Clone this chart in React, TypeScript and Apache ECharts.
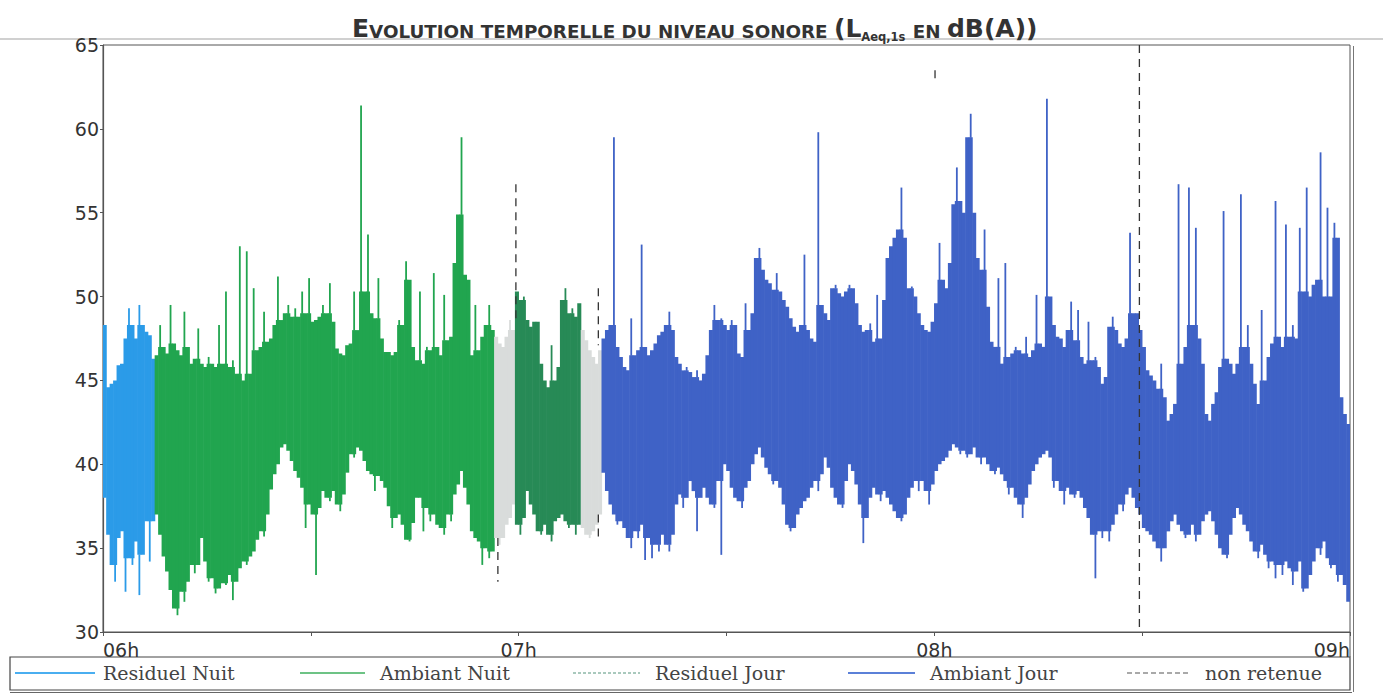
import React, { useEffect, useRef } from "react";
import * as echarts from "echarts";

// time axis: minutes after 06h00, data sampled as min/max envelopes every 0.5 min
const STEP = 0.5;
const hourLabels = ["06h", "07h", "08h", "09h"];
const legendNames = ["Residuel Nuit", "Ambiant Nuit", "Residuel Jour", "Ambiant Jour", "non retenue"];

const residuelNuitStart = 0;
const residuelNuitHi = [48.3, 44.6, 44.8, 45.0, 45.9, 46.0, 47.5, 49.3, 48.3, 47.5, 49.5, 48.3, 47.9, 47.7, 46.3];
const residuelNuitLo = [38.0, 35.8, 34.0, 33.0, 35.6, 36.0, 32.4, 34.4, 34.0, 35.4, 32.2, 34.6, 36.6, 34.2, 36.6];

const ambiantNuitStart = 7.5;
const ambiantNuitHi = [
  46.5, 48.3, 47.0, 46.6, 49.5, 47.2, 46.8, 46.5, 49.1, 47.0,
  46.0, 46.3, 48.1, 46.0, 45.8, 46.4, 46.0, 45.8, 48.3, 46.0,
  50.3, 45.8, 46.2, 45.4, 53.0, 45.0, 52.7, 45.4, 50.5, 46.8,
  47.0, 49.1, 47.3, 47.5, 48.3, 51.2, 48.6, 49.0, 49.5, 48.8,
  49.3, 48.8, 50.3, 49.0, 51.1, 48.5, 48.6, 48.8, 49.5, 49.0,
  50.8, 48.5, 46.9, 46.6, 46.5, 47.1, 47.2, 50.3, 48.0, 61.4,
  50.3, 53.7, 49.0, 48.7, 51.1, 47.5, 46.7, 46.7, 46.5, 46.7,
  48.6, 48.3, 52.1, 51.0, 47.0, 46.2, 50.3, 46.0, 47.0, 46.8,
  51.4, 47.0, 46.5, 50.1, 47.4, 47.6, 52.0, 54.9, 59.5, 51.3,
  51.0, 46.5, 49.5, 46.8, 47.6, 48.3, 49.5, 48.0,
];
const ambiantNuitLo = [
  37.0, 35.8, 34.5, 33.6, 32.5, 31.4, 31.0, 32.4, 31.8, 33.0,
  34.0, 33.5, 34.0, 35.6, 34.2, 33.0, 33.2, 32.3, 32.6, 32.9,
  32.8, 33.4, 31.9, 33.0, 33.8, 34.2, 34.0, 34.5, 34.8, 35.5,
  36.0, 35.7, 37.0, 38.5, 39.4, 40.0, 41.0, 41.2, 40.8, 40.2,
  39.6, 39.2, 38.6, 36.2, 37.6, 37.0, 33.4, 37.4, 38.4, 38.0,
  37.8, 38.4, 37.6, 37.2, 38.2, 39.5, 40.6, 40.4, 41.0, 40.8,
  40.2, 39.6, 39.4, 38.4, 39.3, 39.0, 38.6, 37.5, 36.2, 36.8,
  37.0, 36.4, 35.5, 35.4, 36.5, 38.0, 38.0, 36.0, 37.4, 36.6,
  37.0, 36.4, 36.2, 35.8, 37.0, 36.6, 38.2, 38.8, 39.6, 38.6,
  37.6, 36.0, 35.6, 35.4, 34.0, 35.0, 34.4, 34.8,
];

const residuelJour1Start = 56.5;
const residuelJour1Hi = [47.6, 47.2, 47.0, 47.6, 48.6, 48.0];
const residuelJour1Lo = [35.6, 35.2, 35.6, 36.4, 36.8, 37.6];

const ambiantNuit2Start = 59.5;
const ambiantNuit2Hi = [50.3, 49.8, 50.0, 48.6, 48.2, 48.5, 48.5, 46.0, 45.0, 44.6, 47.1, 45.0, 45.8, 49.8, 50.5, 49.0, 49.3, 48.8, 49.6];
const ambiantNuit2Lo = [36.4, 35.8, 36.8, 38.4, 37.6, 37.0, 36.0, 35.8, 36.4, 35.8, 35.4, 36.6, 36.8, 37.0, 36.6, 36.2, 36.4, 35.8, 36.4];

const residuelJour2Start = 69.0;
const residuelJour2Hi = [48.0, 47.4, 46.8, 46.4, 46.0, 46.8];
const residuelJour2Lo = [36.2, 35.8, 35.6, 36.0, 36.4, 37.0];

const ambiantJourStart = 72;
const ambiantJourHi = [
  47.5, 48.0, 48.3, 59.5, 47.0, 46.4, 45.8, 45.6, 48.7, 46.5,
  46.8, 53.1, 47.0, 46.5, 46.8, 47.2, 47.7, 47.9, 48.3, 49.1,
  48.0, 46.4, 46.0, 45.6, 45.8, 45.5, 45.2, 45.6, 45.0, 45.4,
  46.5, 48.0, 49.5, 48.6, 48.7, 48.3, 48.0, 48.6, 48.3,
  46.6, 46.4, 49.6, 48.0, 49.0, 52.3, 52.9, 51.6, 51.0, 50.8,
  50.4, 51.4, 50.3, 49.8, 49.4, 48.7, 48.2, 47.9, 48.3, 52.5,
  48.0, 47.5, 47.3, 59.8, 49.5, 49.0, 48.6, 50.5, 50.7, 50.2,
  50.0, 50.3, 50.7, 50.5, 49.6, 48.3, 47.9, 48.0, 48.4, 47.3,
  50.1, 47.5, 49.8, 52.3, 53.0, 53.5, 54.0, 56.5, 53.5, 50.5,
  50.6, 50.0, 49.0, 48.3, 48.0, 47.9, 48.5, 49.6, 53.2, 51.0,
  50.5, 52.0, 55.5, 57.7, 55.7, 55.0, 59.5, 60.9, 55.0, 52.3,
  51.6, 54.0, 49.4, 47.3, 47.0, 51.1, 46.0, 52.0, 46.4, 46.6,
  47.0, 46.8, 46.6, 47.6, 46.4, 46.8, 50.1, 47.2, 47.0, 61.8, 50.0,
  48.3, 47.6, 47.5, 47.0, 48.0, 49.7, 47.4, 49.2, 46.4, 46.0,
  48.5, 46.2, 46.4, 45.8, 44.8, 45.2, 48.2, 48.8, 48.0, 47.2,
  47.0, 47.5, 53.8, 49.0, 49.0, 48.0, 47.0, 45.6, 45.3, 45.0,
  44.5, 46.0, 44.0, 42.6, 43.0, 43.6, 56.7, 46.0, 47.0, 56.5,
  48.3, 54.1, 47.5, 46.0, 43.0, 42.6, 43.6, 44.3, 45.8, 55.1,
  46.3, 46.0, 45.4, 46.0, 56.1, 47.0, 48.3, 46.0, 44.8, 43.6,
  49.2, 45.0, 46.4, 47.2, 55.7, 47.6, 47.0, 54.3, 47.6, 48.3,
  47.5, 54.1, 50.3, 56.5, 50.0, 50.7, 51.0, 58.6, 50.0, 55.3,
  50.0, 54.4, 53.5, 44.0, 43.0, 42.4,
];
const ambiantJourLo = [
  39.5, 38.4, 37.6, 37.0, 36.4, 36.6, 36.2, 35.6, 35.0, 36.0,
  35.6, 36.4, 34.3, 35.6, 34.4, 35.2, 34.8, 35.8, 35.2, 34.8,
  35.8, 37.6, 38.2, 37.4, 38.0, 39.0, 38.4, 36.0, 38.0, 38.6,
  38.0, 37.6, 37.4, 39.0, 34.6, 40.0, 39.6, 38.6, 38.0,
  37.8, 37.4, 38.6, 39.0, 40.0, 40.6, 41.0, 40.4, 39.8, 39.4,
  38.8, 39.0, 38.6, 37.6, 36.4, 36.0, 36.2, 37.0, 37.4, 37.8,
  38.0, 38.6, 39.0, 38.4, 39.4, 40.4, 39.8, 38.6, 38.0, 37.6,
  37.4, 39.0, 40.0, 39.6, 38.8, 37.6, 35.3, 36.8, 38.0, 38.6,
  38.2, 37.8, 38.4, 38.0, 37.6, 37.2, 36.8, 36.6, 37.0, 38.0,
  38.6, 39.0, 38.4, 39.0, 38.4, 37.6, 38.8, 39.6, 40.0, 40.2,
  40.4, 40.8, 41.2, 41.0, 40.6, 40.8, 40.4, 40.6, 41.0, 40.4,
  40.0, 40.4, 40.0, 39.6, 39.4, 39.8, 39.4, 39.0, 38.2, 38.6,
  38.0, 37.6, 36.8, 38.0, 38.8, 39.6, 40.0, 40.4, 40.6, 40.8, 40.4,
  38.6, 39.0, 38.4, 37.6, 38.6, 38.2, 38.0, 38.4, 38.0, 37.4,
  36.8, 35.8, 33.2, 36.0, 35.6, 36.0, 35.4, 36.4, 37.0, 37.6,
  37.2, 38.2, 38.6, 38.0, 37.4, 37.0, 36.2, 36.0, 35.8, 35.4,
  35.0, 34.2, 35.0, 36.0, 36.6, 37.0, 36.4, 36.0, 35.6, 35.8,
  36.4, 35.4, 35.8, 36.6, 37.0, 37.2, 36.6, 35.8, 35.0, 34.6,
  34.4, 35.8, 36.8, 37.4, 37.0, 36.4, 36.0, 35.4, 34.8, 34.4,
  35.2, 34.6, 33.8, 34.2, 33.2, 34.0, 33.4, 34.2, 33.8, 32.8,
  33.6, 34.2, 32.4, 32.6, 33.4, 34.2, 35.0, 34.6, 35.4, 34.4,
  33.8, 34.0, 33.0, 33.4, 32.8, 31.8,
];

// non retenue marks: [minute, from dB, to dB]
const nonRetenue = [
  [57.0, 33.0, 35.6],
  [59.6, 48.7, 56.7],
  [71.5, 47.1, 50.5],
  [71.5, 35.6, 37.0],
  [120.1, 62.9, 63.5],
  [149.6, 30, 65],
];

const COLORS = {
  residuelNuit: "#2b9be8",
  ambiantNuit: "#21a54f",
  ambiantNuit2: "#278a56",
  residuelJour: "#d9dcdb",
  ambiantJour: "#3f62c6",
  nonRetenue: "#333333",
};

// each item: [minute, lo, hi, coreLo, coreHi]; the core is the part shared with
// the neighbouring samples, the rest is drawn as a thin spike
function bands(start: number, hi: number[], lo: number[]) {
  return hi.map((h, i) => {
    const hp = i > 0 ? hi[i - 1] : h;
    const hn = i < hi.length - 1 ? hi[i + 1] : h;
    const lp = i > 0 ? lo[i - 1] : lo[i];
    const ln = i < lo.length - 1 ? lo[i + 1] : lo[i];
    const coreHi = Math.min(h, Math.max(hp, hn));
    const coreLo = Math.max(lo[i], Math.min(lp, ln));
    return [start + STEP * (i + 0.5), lo[i], h, coreLo, coreHi];
  });
}

function bandSeries(name: string, data: number[][], color: string) {
  return {
    type: "custom",
    name,
    silent: true,
    clip: true,
    encode: { x: 0, y: [1, 2] },
    data,
    renderItem: (params: any, api: any) => {
      const t = api.value(0);
      const pLo = api.coord([t, api.value(1)]);
      const pHi = api.coord([t, api.value(2)]);
      const pCLo = api.coord([t, api.value(3)]);
      const pCHi = api.coord([t, api.value(4)]);
      const w = api.size([STEP, 0])[0];
      const sw = 1.8;
      const x = pHi[0];
      const children: any[] = [
        {
          type: "rect",
          shape: { x: x - w / 2 - 0.3, y: pCHi[1], width: w + 0.6, height: pCLo[1] - pCHi[1] },
          style: { fill: color },
        },
      ];
      if (pCHi[1] - pHi[1] > 0.5) {
        children.push({
          type: "rect",
          shape: { x: x - sw / 2, y: pHi[1], width: sw, height: pCHi[1] - pHi[1] + 0.5 },
          style: { fill: color },
        });
      }
      if (pLo[1] - pCLo[1] > 0.5) {
        children.push({
          type: "rect",
          shape: { x: x - sw / 2, y: pCLo[1] - 0.5, width: sw, height: pLo[1] - pCLo[1] + 0.5 },
          style: { fill: color },
        });
      }
      return { type: "group", children };
    },
  };
}

export default function App() {
  const ref = useRef<HTMLDivElement>(null);

  useEffect(() => {
    if (!ref.current) return;
    const chart = echarts.init(ref.current, null, { renderer: "svg" });

    const legendY = 673;
    const legendItems = [
      { x1: 15, x2: 95, tx: 103, color: "#4aaef0", dash: null as any, w: 2 },
      { x1: 300, x2: 365, tx: 380, color: "#3caf5c", dash: null, w: 1.5 },
      { x1: 573, x2: 640, tx: 655, color: "#a9c9bd", dash: [3, 2], w: 2 },
      { x1: 848, x2: 915, tx: 930, color: "#5b80d8", dash: null, w: 2 },
      { x1: 1127, x2: 1190, tx: 1205, color: "#555555", dash: [5, 3], w: 1.2 },
    ];

    const graphics: any[] = [
      { type: "line", shape: { x1: 0, y1: 39, x2: 1383, y2: 39 }, style: { stroke: "#d0d0d0", lineWidth: 2 } },
      { type: "rect", shape: { x: 10, y: 657, width: 1340, height: 33 }, style: { fill: "none", stroke: "#444", lineWidth: 1.2 } },
      { type: "line", shape: { x1: 10, y1: 692.5, x2: 1352, y2: 692.5 }, style: { stroke: "#666", lineWidth: 1.2 } },
      { type: "line", shape: { x1: 1350, y1: 632, x2: 1350, y2: 657 }, style: { stroke: "#555", lineWidth: 1 } },
      { type: "line", shape: { x1: 1353.5, y1: 46, x2: 1353.5, y2: 692 }, style: { stroke: "#777", lineWidth: 1 } },
    ];
    legendItems.forEach((it, i) => {
      graphics.push({
        type: "line",
        shape: { x1: it.x1, y1: legendY, x2: it.x2, y2: legendY },
        style: { stroke: it.color, lineWidth: it.w, lineDash: it.dash || undefined },
      });
      graphics.push({
        type: "text",
        x: it.tx,
        y: legendY,
        style: {
          text: legendNames[i],
          fontFamily: "DejaVu Serif",
          fontSize: 19,
          fill: "#444",
          verticalAlign: "middle",
          align: "left",
        },
      });
    });

    const option: any = {
      animation: false,
      backgroundColor: "#ffffff",
      title: {
        text: "{b|E}{s|VOLUTION TEMPORELLE DU NIVEAU SONORE }{b|(L}{sub|Aeq,1s}{s| EN }{b|dB(A))}",
        left: 347,
        top: 9,
        textStyle: {
          rich: {
            b: { fontFamily: "DejaVu Sans", fontWeight: "bold", fontSize: 25, color: "#333", verticalAlign: "bottom", lineHeight: 29, padding: [0, 0, 2, 0] },
            s: { fontFamily: "DejaVu Sans", fontWeight: "bold", fontSize: 18.3, color: "#333", verticalAlign: "bottom", lineHeight: 29, padding: [0, 0, 3, 0] },
            sub: { fontFamily: "DejaVu Sans", fontWeight: "bold", fontSize: 11.5, color: "#333", verticalAlign: "bottom", lineHeight: 29, padding: [0, 1, 0, 0] },
          },
        },
      },
      grid: { left: 103, right: 33, top: 45, bottom: 64, show: true, borderColor: "#555", borderWidth: 1 },
      xAxis: {
        type: "value",
        min: 0,
        max: 180,
        interval: 30,
        axisLine: { show: true, lineStyle: { color: "#555", width: 1 } },
        axisTick: { show: true, length: 4, lineStyle: { color: "#555" } },
        splitLine: { show: false },
        axisLabel: {
          formatter: (v: number) => (v % 60 === 0 ? hourLabels[v / 60] : ""),
          alignMinLabel: "left",
          alignMaxLabel: "right",
          fontFamily: "DejaVu Sans",
          fontSize: 19,
          color: "#333",
          margin: 8,
        },
      },
      yAxis: {
        type: "value",
        min: 30,
        max: 65,
        interval: 5,
        axisLine: { show: true, lineStyle: { color: "#555", width: 1.2 } },
        axisTick: { show: true, length: 3, lineStyle: { color: "#555" } },
        splitLine: { show: false },
        axisLabel: { fontFamily: "DejaVu Sans", fontSize: 19, color: "#333", margin: 4 },
      },
      series: [
        bandSeries(legendNames[0], bands(residuelNuitStart, residuelNuitHi, residuelNuitLo), COLORS.residuelNuit),
        bandSeries(legendNames[1], bands(ambiantNuitStart, ambiantNuitHi, ambiantNuitLo), COLORS.ambiantNuit),
        bandSeries(legendNames[2], bands(residuelJour1Start, residuelJour1Hi, residuelJour1Lo), COLORS.residuelJour),
        bandSeries(legendNames[1] + " (2)", bands(ambiantNuit2Start, ambiantNuit2Hi, ambiantNuit2Lo), COLORS.ambiantNuit2),
        bandSeries(legendNames[2] + " (2)", bands(residuelJour2Start, residuelJour2Hi, residuelJour2Lo), COLORS.residuelJour),
        bandSeries(legendNames[3], bands(ambiantJourStart, ambiantJourHi, ambiantJourLo), COLORS.ambiantJour),
        {
          type: "custom",
          name: legendNames[4],
          silent: true,
          clip: true,
          encode: { x: 0, y: [1, 2] },
          data: nonRetenue,
          renderItem: (params: any, api: any) => {
            const t = api.value(0);
            const a = api.coord([t, api.value(2)]);
            const b = api.coord([t, api.value(1)]);
            return {
              type: "line",
              shape: { x1: a[0], y1: a[1], x2: b[0], y2: b[1] },
              style: { stroke: COLORS.nonRetenue, lineWidth: 1.3, lineDash: [8, 6] },
            };
          },
        },
      ],
      graphic: graphics,
    };

    chart.setOption(option);
    return () => chart.dispose();
  }, []);

  return (
    <div
      ref={ref}
      style={{ position: "fixed", left: 0, top: 0, width: 1383, height: 696, background: "#fff" }}
    />
  );
}
